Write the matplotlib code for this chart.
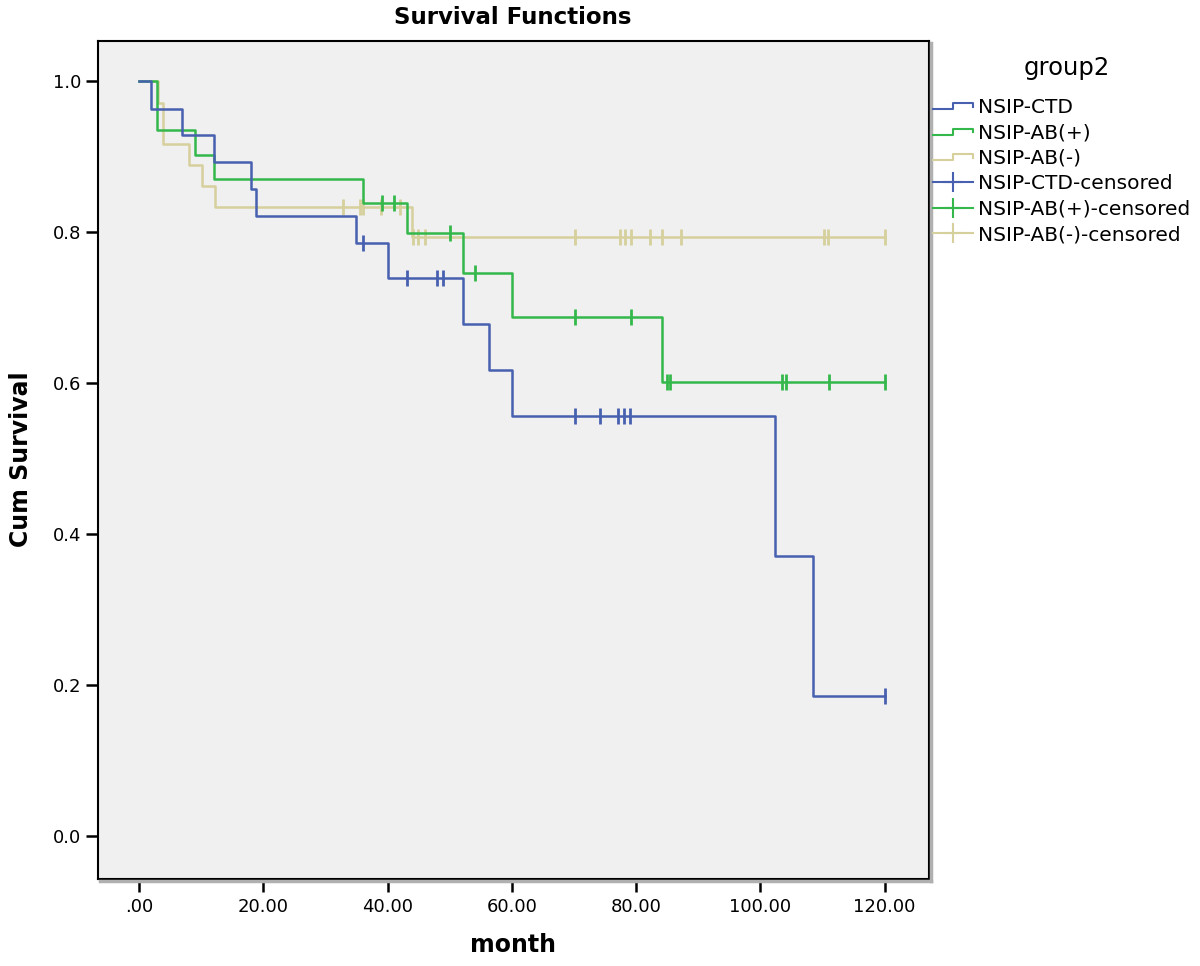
import matplotlib
matplotlib.use('Agg')
import matplotlib.pyplot as plt
import numpy as np
from matplotlib.lines import Line2D
from matplotlib.legend_handler import HandlerBase

# Kaplan-Meier steps (month, cumulative survival after the step)
ctd_times = [0, 1.9, 6.9, 12.1, 18.0, 18.9, 35.0, 40.1, 52.2, 56.3, 60.1, 102.3, 108.4]
ctd_surv = [1.0, 0.964, 0.929, 0.893, 0.857, 0.821, 0.786, 0.740, 0.679, 0.618, 0.556, 0.371, 0.185]
ctd_cens = [36.0, 43.1, 48.0, 49.0, 70.1, 74.2, 77.1, 78.0, 79.0, 120.0]

abp_times = [0, 2.9, 9.0, 12.1, 36.0, 43.1, 52.1, 60.1, 84.2]
abp_surv = [1.0, 0.935, 0.903, 0.871, 0.839, 0.799, 0.746, 0.688, 0.602]
abp_cens = [39.1, 41.0, 50.1, 54.0, 70.1, 79.1, 84.9, 85.4, 103.4, 104.2, 111.1, 120.0]

abn_times = [0, 3.0, 3.9, 8.0, 10.1, 12.2, 43.9]
abn_surv = [1.0, 0.972, 0.917, 0.889, 0.861, 0.833, 0.794]
abn_cens = [32.9, 35.5, 36.1, 39.0, 42.0, 44.1, 44.9, 46.0, 70.1, 77.4, 78.2, 79.1,
            82.2, 84.1, 87.3, 110.3, 110.9, 120.0]

labels = ['NSIP-CTD', 'NSIP-AB(+)', 'NSIP-AB(-)']
colors = ['#4760b0', '#34b84c', '#d6d09c']
x_ticks = [0, 20, 40, 60, 80, 100, 120]
x_labels = ['.00', '20.00', '40.00', '60.00', '80.00', '100.00', '120.00']
y_ticks = [0.0, 0.2, 0.4, 0.6, 0.8, 1.0]
y_labels = ['0.0', '0.2', '0.4', '0.6', '0.8', '1.0']
end_time = 120.0


class StepHandler(HandlerBase):
    def create_artists(self, legend, orig_handle, xdescent, ydescent,
                       width, height, fontsize, trans):
        x0 = -xdescent
        lo = -ydescent + height * 0.25
        hi = -ydescent + height * 0.7
        xs = [x0, x0 + width * 0.5, x0 + width * 0.5, x0 + width, x0 + width]
        ys = [lo, lo, hi, hi, hi - height * 0.25]
        ln = Line2D(xs, ys, color=orig_handle.get_color(), lw=1.5, transform=trans)
        return [ln]


def draw_group(ax, times, surv, cens, color):
    xs = list(times) + [end_time]
    ys = list(surv) + [surv[-1]]
    ax.step(xs, ys, where='post', color=color, lw=1.8)
    idx = np.searchsorted(times, cens, side='right') - 1
    cy = np.array(surv)[idx]
    ax.plot(cens, cy, ls='none', marker='|', ms=11, mew=2, color=color)


fig = plt.figure(figsize=(12, 9.66), dpi=100)
ax = fig.add_axes([0.0814, 0.0904, 0.6926, 0.8675])
ax.set_facecolor('#f0f0f0')

draw_group(ax, abn_times, abn_surv, abn_cens, colors[2])
draw_group(ax, abp_times, abp_surv, abp_cens, colors[1])
draw_group(ax, ctd_times, ctd_surv, ctd_cens, colors[0])

ax.set_xlim(-6.64, 127.1)
ax.set_ylim(-0.0566, 1.054)
ax.set_xticks(x_ticks)
ax.set_xticklabels(x_labels)
ax.set_yticks(y_ticks)
ax.set_yticklabels(y_labels)
ax.tick_params(axis='both', direction='out', length=9, width=1.8, labelsize=13,
               colors='black')
ax.tick_params(axis='x', pad=5)
ax.tick_params(axis='y', pad=3)
for s in ax.spines.values():
    s.set_linewidth(1.5)
    s.set_color('black')

ax.set_title('Survival Functions', fontsize=16.5, fontweight='bold', pad=12)
ax.set_xlabel('month', fontsize=17, fontweight='bold', labelpad=12)
ax.set_ylabel('Cum Survival', fontsize=17, fontweight='bold', labelpad=14)

# grey drop shadow on the right and bottom of the frame
fig.add_artist(Line2D([0.776, 0.776], [0.088, 0.956], color='#b0b0b0', lw=2.5))
fig.add_artist(Line2D([0.083, 0.776], [0.088, 0.088], color='#b0b0b0', lw=2.5))

handles = []
hmap = {}
for lab, col in zip(labels, colors):
    h = Line2D([], [], color=col)
    handles.append(h)
    hmap[h] = StepHandler()
for col in colors:
    handles.append(Line2D([], [], color=col, lw=1.5, marker='+', ms=14, mew=1.5))
leg_labels = labels + [l + '-censored' for l in labels]

fig.text(1067 / 1200, 1 - 68 / 966, 'group2', fontsize=17.5, ha='center', va='center')
leg = fig.legend(handles, leg_labels, handler_map=hmap, loc='upper left',
                 bbox_to_anchor=(933 / 1200, 1 - 98 / 966), frameon=False, fontsize=14.5,
                 handlelength=2.0, handletextpad=0.25, labelspacing=0.32,
                 borderaxespad=0, borderpad=0)

fig.savefig('out.png', dpi=100)
